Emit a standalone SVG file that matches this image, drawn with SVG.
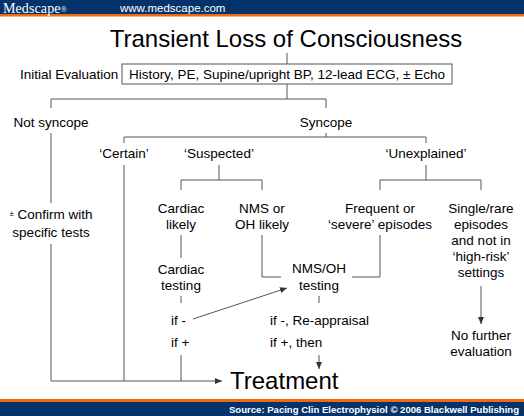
<svg xmlns="http://www.w3.org/2000/svg" width="524" height="416" viewBox="0 0 524 416">
<defs>
<style>
text{font-family:"Liberation Sans",Arial,sans-serif;fill:#000;font-size:13.5px}
.c{text-anchor:middle}
.big{font-size:24px}
.ln{stroke:#555;stroke-width:1;fill:none}
</style>
<marker id="ah" markerWidth="8" markerHeight="8" refX="7" refY="4" orient="auto" markerUnits="userSpaceOnUse">
<path d="M0,1 L7,4 L0,7 Z" fill="#333"/>
</marker>
</defs>
<rect width="524" height="416" fill="#fff"/>
<g id="header">
<rect x="0" y="0" width="524" height="14" fill="#04336b"/>
<rect x="0" y="14" width="524" height="2.5" fill="#f26a10"/>
<text x="3" y="12.8" style="font-family:'Liberation Serif','Times New Roman',serif;font-size:14px;fill:#fff;letter-spacing:0.1px">Medscape<tspan style="font-size:8.5px" dy="-1">®</tspan></text>
<text x="120" y="12" style="font-size:11.5px;fill:#fff">www.medscape.com</text>
</g>
<g id="footer">
<rect x="0" y="399" width="524" height="3" fill="#f26a10"/>
<rect x="0" y="402" width="524" height="14" fill="#04336b"/>
<text x="519" y="412.5" textLength="290" lengthAdjust="spacingAndGlyphs" style="font-size:9.5px;font-weight:bold;fill:#fff;text-anchor:end">Source: Pacing Clin Electrophysiol © 2006 Blackwell Publishing</text>
</g>
<g id="connectors">
<path class="ln" d="M287,53 V64"/>
<path class="ln" d="M287,84 V99 M51,108 V99 H326 V108"/>
<path class="ln" d="M326,133 V137 M124,143 V137 H426 V143"/>
<path class="ln" d="M51,133 V203 M51,244 V381 H222" marker-end="url(#ah)"/>
<path class="ln" d="M124,165 V381"/>
<path class="ln" d="M219,165 V180 M181,190 V180 H262 V190"/>
<path class="ln" d="M426,165 V180 M380,190 V180 H481 V190"/>
<path class="ln" d="M181,235 V258"/>
<path class="ln" d="M181,296 V303"/>
<path class="ln" d="M181,355 V381"/>
<path class="ln" d="M262,235 V277 H281"/>
<path class="ln" d="M380,235 V277 H352"/>
<path class="ln" d="M193,319 L287,288" marker-end="url(#ah)"/>
<path class="ln" d="M319,296 V303"/>
<path class="ln" d="M319,355 V369" marker-end="url(#ah)"/>
<path class="ln" d="M481,286 V324" marker-end="url(#ah)"/>
</g>
<g id="title"><text x="286" y="47" class="c big">Transient Loss of Consciousness</text></g>
<g id="initial-eval"><text x="20" y="79">Initial Evaluation</text></g>
<g id="eval-box">
<rect x="122" y="64" width="330" height="20" fill="#fff" stroke="#555"/>
<text x="287" y="79" class="c">History, PE, Supine/upright BP, 12-lead ECG, ± Echo</text>
</g>
<g id="not-syncope"><text x="51" y="127" class="c">Not syncope</text></g>
<g id="syncope"><text x="326" y="127" class="c">Syncope</text></g>
<g id="certain"><text x="124" y="158" class="c">‘Certain’</text></g>
<g id="suspected"><text x="219" y="158" class="c">‘Suspected’</text></g>
<g id="unexplained"><text x="426" y="158" class="c">‘Unexplained’</text></g>
<g id="confirm"><text x="51" y="219" class="c"><tspan style="font-size:8px" dy="-3">±</tspan><tspan dy="3"> Confirm with</tspan></text><text x="51" y="237" class="c">specific tests</text></g>
<g id="cardiac-likely"><text x="181" y="213" class="c">Cardiac</text><text x="181" y="229" class="c">likely</text></g>
<g id="nms-likely"><text x="262" y="213" class="c">NMS or</text><text x="262" y="229" class="c">OH likely</text></g>
<g id="frequent"><text x="380" y="213" class="c">Frequent or</text><text x="380" y="229" class="c">‘severe’ episodes</text></g>
<g id="single"><text x="481" y="213" class="c">Single/rare</text><text x="481" y="229" class="c">episodes</text><text x="481" y="245" class="c">and not in</text><text x="481" y="261" class="c">‘high-risk’</text><text x="481" y="277" class="c">settings</text></g>
<g id="cardiac-testing"><text x="181" y="274" class="c">Cardiac</text><text x="181" y="290" class="c">testing</text></g>
<g id="nms-testing"><text x="319" y="273" class="c">NMS/OH</text><text x="319" y="290" class="c">testing</text></g>
<g id="cardiac-if"><text x="171" y="325">if -</text><text x="171" y="347">if +</text></g>
<g id="nms-if"><text x="270" y="325">if -, Re-appraisal</text><text x="270" y="347">if +, then</text></g>
<g id="no-further"><text x="481" y="340" class="c">No further</text><text x="481" y="356" class="c">evaluation</text></g>
<g id="treatment"><text x="230" y="389" class="big">Treatment</text></g>
</svg>
